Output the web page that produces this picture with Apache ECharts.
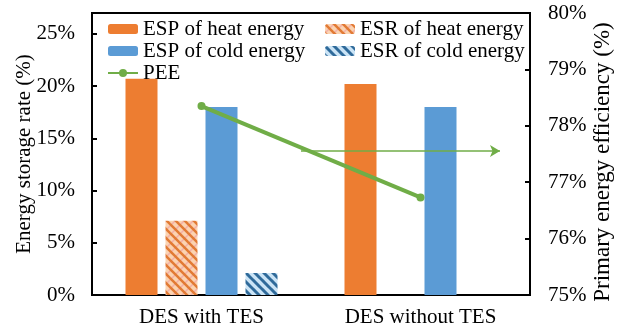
<!DOCTYPE html>
<html>
<head>
<meta charset="utf-8">
<script src="https://cdn.jsdelivr.net/npm/echarts@6/dist/echarts.min.js"></script>
<style>html,body{margin:0;padding:0;background:#fff;}#c{width:622px;height:336px;}</style>
</head>
<body>
<div id="c"></div>
<script>
var categories = ['DES with TES', 'DES without TES'];
var espHeat = [20.7, 20.2];
var esrHeat = [7.1, '-'];
var espCold = [18.0, 18.0];
var esrCold = [2.1, '-'];
var pee = [78.35, 76.73];
var leftTicks = [0, 5, 10, 15, 20, 25];
var rightTicks = [75, 76, 77, 78, 79, 80];

function hatch(bg, fg, fg2, w) {
  var c = document.createElement('canvas');
  c.width = 9; c.height = 9;
  var g = c.getContext('2d');
  g.fillStyle = bg; g.fillRect(0, 0, 9, 9);
  if (fg2) {
    g.strokeStyle = fg2; g.lineWidth = 1.5;
    for (var k = -1; k <= 1; k++) {
      g.beginPath(); g.moveTo(k * 9 - 1, 10); g.lineTo(k * 9 + 10, -1); g.stroke();
    }
  }
  g.strokeStyle = fg; g.lineWidth = w;
  for (var k = -1; k <= 1; k++) {
    g.beginPath(); g.moveTo(k * 9 - 1, -1); g.lineTo(k * 9 + 10, 10); g.stroke();
  }
  return { image: c, repeat: 'repeat' };
}

var heatPat = hatch('#fbd3b2', '#e27a34', '#f2b0a8', 2.5);
var coldPat = hatch('#cbe4f6', '#2f6a9a', null, 3);

var font = "'Liberation Serif', 'Times New Roman', serif";
var chart = echarts.init(document.getElementById('c'), null, { renderer: 'canvas' });
chart.setOption({
  animation: false,
  textStyle: { fontFamily: font, color: '#000' },
  grid: { left: 92, right: 92, top: 13, bottom: 41, show: true, borderColor: '#000', borderWidth: 2, backgroundColor: 'transparent' },
  legend: [
    { left: 107, top: 18, orient: 'vertical', padding: 0, itemWidth: 30, itemHeight: 10, itemGap: 0,
      textStyle: { fontFamily: font, fontSize: 21, color: '#000', lineHeight: 22 },
      data: ['ESP of heat energy', 'ESP of cold energy', 'PEE'] },
    { left: 325, top: 18, orient: 'vertical', padding: 0, itemWidth: 30, itemHeight: 10, itemGap: 0,
      textStyle: { fontFamily: font, fontSize: 21, color: '#000', lineHeight: 22 },
      data: ['ESR of heat energy', 'ESR of cold energy'] }
  ],
  xAxis: {
    type: 'category', data: categories,
    axisLine: { lineStyle: { color: '#000', width: 2 } },
    axisTick: { inside: true, length: 5, lineStyle: { color: '#000', width: 2 } },
    axisLabel: { fontFamily: font, fontSize: 21, color: '#000', margin: 12 }
  },
  yAxis: [
    { type: 'value', min: 0, max: 27, interval: 5, position: 'left',
      name: 'Energy storage rate (%)', nameLocation: 'middle', nameGap: 57, nameRotate: 90, nameMoveOverlap: false,
      nameTextStyle: { fontFamily: font, fontSize: 21, color: '#000' },
      axisLine: { show: true, lineStyle: { color: '#000', width: 2 } },
      axisTick: { show: true, inside: true, length: 5, lineStyle: { color: '#000', width: 2 } },
      axisLabel: { fontFamily: font, fontSize: 21, color: '#000', margin: 17, showMaxLabel: false,
        formatter: function (v) { return leftTicks.indexOf(v) >= 0 ? v + '%' : ''; } },
      splitLine: { show: false } },
    { type: 'value', min: 75, max: 80, interval: 1, position: 'right',
      name: 'Primary energy efficiency (%)', nameLocation: 'middle', nameGap: 61, nameRotate: 90, nameMoveOverlap: false,
      nameTextStyle: { fontFamily: font, fontSize: 23, color: '#000', padding: [0, 16, 0, 0] },
      axisLine: { show: true, lineStyle: { color: '#000', width: 2 } },
      axisTick: { show: true, inside: true, length: 5, lineStyle: { color: '#000', width: 2 } },
      axisLabel: { fontFamily: font, fontSize: 21, color: '#000', margin: 18,
        formatter: function (v) { return rightTicks.indexOf(v) >= 0 ? v + '%' : ''; } },
      splitLine: { show: false } }
  ],
  series: [
    { name: 'ESP of heat energy', type: 'bar', data: espHeat, barWidth: 32, barGap: '25%', itemStyle: { color: '#ED7D31' } },
    { name: 'ESR of heat energy', type: 'bar', data: esrHeat, barWidth: 32, barGap: '25%', itemStyle: { color: heatPat } },
    { name: 'ESP of cold energy', type: 'bar', data: espCold, barWidth: 32, barGap: '25%', itemStyle: { color: '#5B9BD5' } },
    { name: 'ESR of cold energy', type: 'bar', data: esrCold, barWidth: 32, barGap: '25%', itemStyle: { color: coldPat } },
    { name: 'PEE', type: 'line', yAxisIndex: 1, data: pee, z: 5,
      symbol: 'circle', symbolSize: 8,
      lineStyle: { color: '#70AD47', width: 4 }, itemStyle: { color: '#70AD47' },
      markLine: {
        silent: true, symbol: ['none', 'arrow'], symbolSize: [9, 10],
        label: { show: false },
        lineStyle: { color: '#70AD47', width: 1.5, type: 'solid' },
        data: [[{ x: 301, y: 151 }, { x: 500, y: 151 }]]
      } }
  ]
});
</script>
</body>
</html>
